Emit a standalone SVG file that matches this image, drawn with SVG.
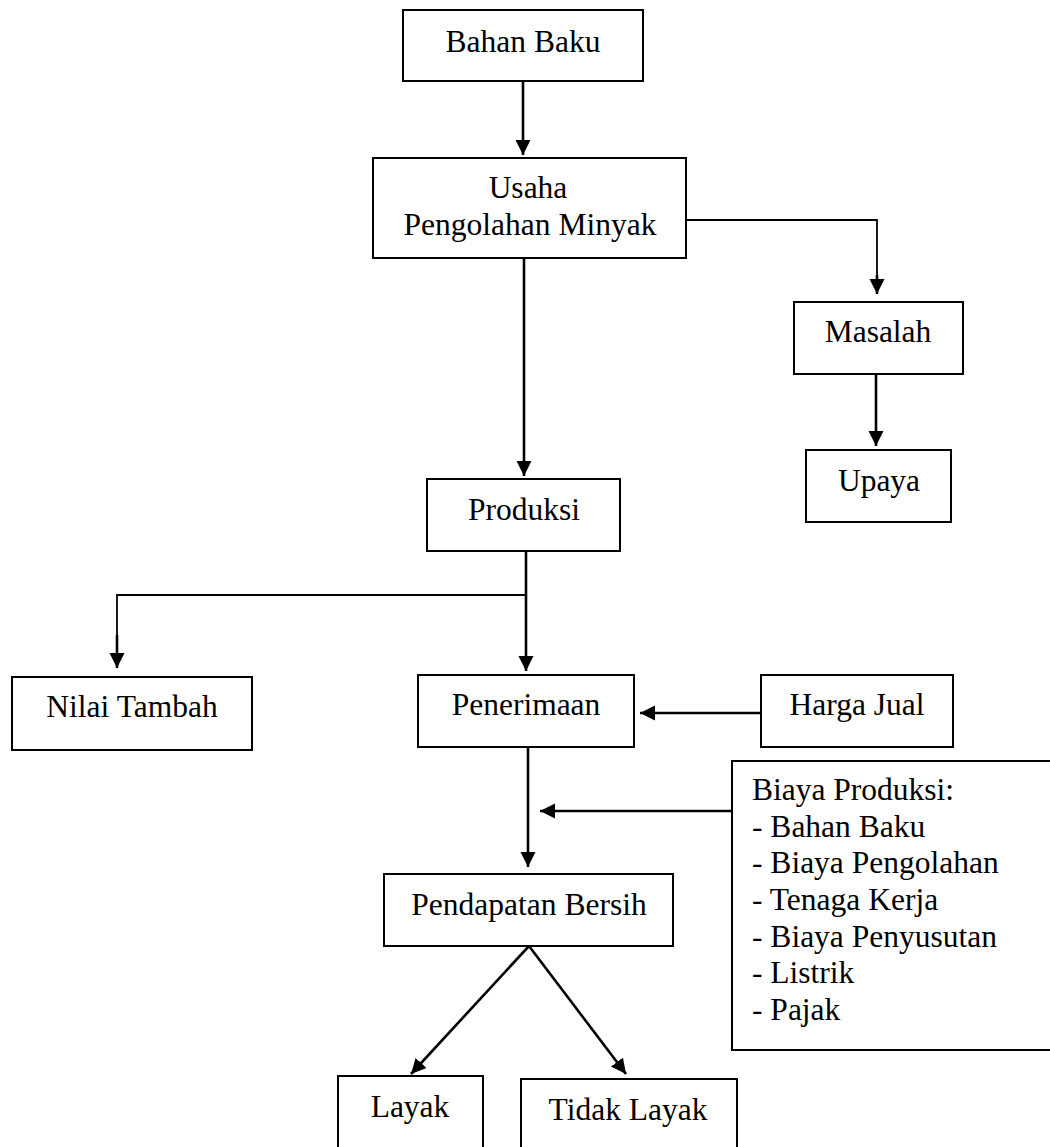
<svg xmlns="http://www.w3.org/2000/svg" width="1050" height="1147" viewBox="0 0 1050 1147">
<style>
.box{fill:#fff;stroke:#000;stroke-width:2}
.t{font-family:"Liberation Serif","Times New Roman",serif;font-size:31.5px;fill:#000}
.c{text-anchor:middle}
.ln{fill:none;stroke:#000;stroke-width:2.6}
.thin{fill:none;stroke:#000;stroke-width:1.8}
</style>
<defs>
<marker id="ah" markerUnits="userSpaceOnUse" markerWidth="16" markerHeight="16" viewBox="0 0 16 16" refX="15" refY="7.5" orient="auto">
<path d="M0,0 L15,7.5 L0,15 z" fill="#000"/>
</marker>
</defs>
<rect width="1050" height="1147" fill="#fff"/>
<g id="connectors">
<line class="ln" x1="523" y1="81" x2="523" y2="155" marker-end="url(#ah)"/>
<polyline class="thin" points="686,220 877,220 877,280"/>
<line class="ln" x1="877" y1="275" x2="877" y2="294" marker-end="url(#ah)"/>
<line class="ln" x1="876" y1="374" x2="876" y2="446" marker-end="url(#ah)"/>
<line class="ln" x1="524" y1="258" x2="524" y2="476" marker-end="url(#ah)"/>
<line class="ln" x1="526" y1="551" x2="526" y2="671" marker-end="url(#ah)"/>
<polyline class="thin" points="526,595 117,595 117,640"/>
<line class="ln" x1="117" y1="635" x2="117" y2="668" marker-end="url(#ah)"/>
<line class="ln" x1="761" y1="713" x2="640" y2="713" marker-end="url(#ah)"/>
<line class="ln" x1="528" y1="747" x2="528" y2="867" marker-end="url(#ah)"/>
<line class="ln" x1="732" y1="811" x2="540" y2="811" marker-end="url(#ah)"/>
<line class="ln" x1="529" y1="946" x2="411" y2="1074" marker-end="url(#ah)"/>
<line class="ln" x1="529" y1="946" x2="626" y2="1074" marker-end="url(#ah)"/>
</g>
<g id="bahan-baku">
<rect class="box" x="403" y="10" width="240" height="71"/>
<text class="t c" x="523" y="52">Bahan Baku</text>
</g>
<g id="usaha">
<rect class="box" x="373" y="158" width="313" height="100"/>
<text class="t c" x="528" y="198">Usaha</text>
<text class="t c" x="530" y="235">Pengolahan Minyak</text>
</g>
<g id="masalah">
<rect class="box" x="794" y="302" width="169" height="72"/>
<text class="t c" x="878" y="342">Masalah</text>
</g>
<g id="upaya">
<rect class="box" x="806" y="450" width="145" height="72"/>
<text class="t c" x="879" y="491">Upaya</text>
</g>
<g id="produksi">
<rect class="box" x="427" y="479" width="193" height="72"/>
<text class="t c" x="524" y="520">Produksi</text>
</g>
<g id="nilai-tambah">
<rect class="box" x="12" y="677" width="240" height="73"/>
<text class="t c" x="132" y="717">Nilai Tambah</text>
</g>
<g id="penerimaan">
<rect class="box" x="418" y="675" width="216" height="72"/>
<text class="t c" x="526" y="715">Penerimaan</text>
</g>
<g id="harga-jual">
<rect class="box" x="761" y="675" width="192" height="72"/>
<text class="t c" x="857" y="715">Harga Jual</text>
</g>
<g id="biaya-produksi">
<rect class="box" x="732" y="761" width="330" height="289"/>
<text class="t" x="752" y="800">Biaya Produksi:</text>
<text class="t" x="752" y="837">- Bahan Baku</text>
<text class="t" x="752" y="873">- Biaya Pengolahan</text>
<text class="t" x="752" y="910">- Tenaga Kerja</text>
<text class="t" x="752" y="947">- Biaya Penyusutan</text>
<text class="t" x="752" y="983">- Listrik</text>
<text class="t" x="752" y="1020">- Pajak</text>
</g>
<g id="pendapatan-bersih">
<rect class="box" x="384" y="874" width="289" height="72"/>
<text class="t c" x="529" y="915">Pendapatan Bersih</text>
</g>
<g id="layak">
<rect class="box" x="338" y="1076" width="145" height="90"/>
<text class="t c" x="410" y="1117">Layak</text>
</g>
<g id="tidak-layak">
<rect class="box" x="521" y="1079" width="216" height="90"/>
<text class="t c" x="628" y="1120">Tidak Layak</text>
</g>
</svg>
